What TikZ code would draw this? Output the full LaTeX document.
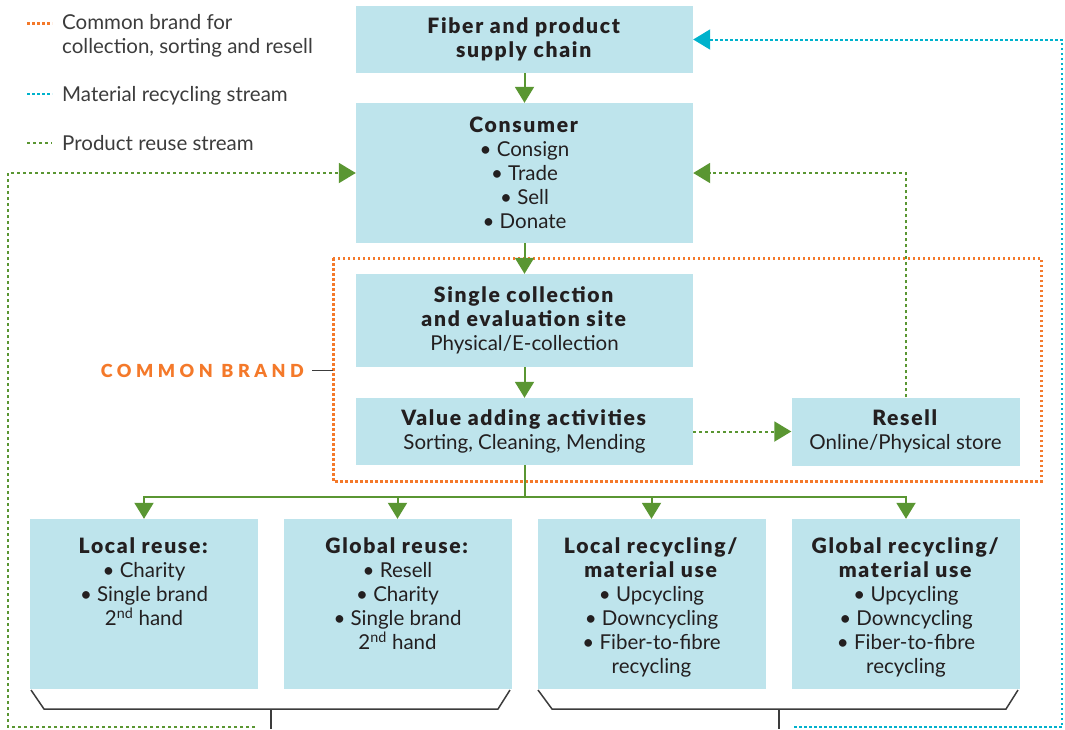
\documentclass[tikz,border=0pt]{standalone}
\usepackage{fontspec}
\setmainfont{Lato}[BoldFont={Lato Black}, BoldFeatures={Scale=1.03, LetterSpace=8}]
\newfontfamily\brandfont{Lato Black}[LetterSpace=25]
\usetikzlibrary{arrows.meta}
\definecolor{boxblue}{RGB}{190,228,236}
\definecolor{flowgreen}{RGB}{90,150,50}
\definecolor{brandorange}{RGB}{244,121,42}
\definecolor{recyccyan}{RGB}{0,178,204}
\definecolor{inkdark}{RGB}{35,31,32}
\definecolor{keygrey}{RGB}{60,60,60}
\newcommand{\toplines}[1]{\parbox[c][132pt][t]{220pt}{\centering #1}}

\begin{document}
\begin{tikzpicture}[x=1pt, y=-1pt,
  box/.style={fill=boxblue, inner sep=0pt, text=inkdark, align=center,
    font=\fontsize{20.5}{24}\selectfont},
  wide/.style={box, minimum width=337pt},
  botbox/.style={box, minimum width=228pt, minimum height=170pt},
  flow/.style={draw=flowgreen, line width=2pt, -{Triangle[width=19pt, length=16pt]}},
  branch/.style={draw=flowgreen, line width=2pt},
  reuse/.style={draw=flowgreen, line width=2pt, dash pattern=on 3pt off 3pt,
    -{Triangle[width=20pt, length=17pt]}},
  recyc/.style={draw=recyccyan, line width=2pt, dash pattern=on 2.5pt off 2.5pt,
    -{Triangle[width=20pt, length=17pt]}},
  brand/.style={draw=brandorange, line width=3pt, dash pattern=on 2.5pt off 2.5pt},
  keyline/.style={line width=2pt},
  keytext/.style={anchor=west, align=left, text=keygrey, inner sep=0pt,
    font=\fontsize{20.5}{24}\selectfont},
  bracket/.style={draw=keygrey, line width=1.5pt}]
  \useasboundingbox (0,0) rectangle (1065,729);

  \draw[brand, keyline, line width=3pt] (27,23) -- (52,23);
  \draw[recyc, keyline, -] (27,94) -- (52,94);
  \draw[reuse, keyline, -] (27,143) -- (52,143);
  \node (keybrand) at (62,35.5) [keytext] {Common brand for\\collection, sorting and resell};
  \node (keyrecyc) at (62,95.5) [keytext] {Material recycling stream};
  \node (keyreuse) at (62,143.5) [keytext] {Product reuse stream};

  \draw[brand] (333,258) rectangle (1041,481);
  \node (brandlabel) at (304,371) [anchor=east, inner sep=0pt, text=brandorange,
    font=\fontsize{18}{20}\brandfont] {COMMON BRAND};
  \draw[bracket, line width=1pt] (312,370) -- (333,370);

  \node (fiber) at (524.5,39.5) [wide, minimum height=67pt] {\textbf{Fiber and product}\\\textbf{supply chain}};
  \node (consumer) at (524.5,173) [wide, minimum height=140pt] {\textbf{Consumer}\\\textbullet{} Consign\\\textbullet{} Trade\\\textbullet{} Sell\\\textbullet{} Donate};
  \node (collect) at (524.5,320.5) [wide, minimum height=93pt] {\textbf{Single collection}\\\textbf{and evaluation site}\\Physical/E-collection};
  \node (value) at (524.5,431.5) [wide, minimum height=67pt] {\textbf{Value adding activities}\\Sorting, Cleaning, Mending};
  \node (resell) at (905.5,431.5) [box, minimum width=228pt, minimum height=68pt] {\textbf{Resell}\\Online/Physical store};

  \node (lreuse) at (144,604) [botbox] {\toplines{\textbf{Local reuse:}\\\textbullet{} Charity\\\textbullet{} Single brand\\2\textsuperscript{nd} hand}};
  \node (greuse) at (397.5,604) [botbox] {\toplines{\textbf{Global reuse:}\\\textbullet{} Resell\\\textbullet{} Charity\\\textbullet{} Single brand\\2\textsuperscript{nd} hand}};
  \node (lrecyc) at (651.5,604) [botbox] {\toplines{\textbf{Local recycling/}\\\textbf{material use}\\\textbullet{} Upcycling\\\textbullet{} Downcycling\\\textbullet{} Fiber-to-fibre\\recycling}};
  \node (grecyc) at (906,604) [botbox] {\toplines{\textbf{Global recycling/}\\\textbf{material use}\\\textbullet{} Upcycling\\\textbullet{} Downcycling\\\textbullet{} Fiber-to-fibre\\recycling}};

  \coordinate (fork) at (524.5,497);
  \coordinate (reuseend) at (255,727);
  \coordinate (recycend) at (794,727);

  \draw[flow] (fiber) -- (consumer);
  \draw[flow] (consumer) -- (collect);
  \draw[flow] (collect) -- (value);
  \draw[branch] (value) -- (fork);
  \draw[flow] (fork) -| (lreuse);
  \draw[flow] (fork) -| (greuse);
  \draw[flow] (fork) -| (lrecyc);
  \draw[flow] (fork) -| (grecyc);
  \draw[reuse] (value) -- (resell);
  \draw[reuse] (resell) |- (consumer);
  \draw[reuse] (reuseend) -- ++(-247,0) |- (consumer);
  \draw[recyc] (recycend) -- ++(268,0) |- (fiber);

  \draw[bracket] (31,690) -- (44,709) -- (498,709) -- (510,690);
  \draw[bracket] (271,709) -- (271,729);
  \draw[bracket] (538,690) -- (552,709) -- (1006,709) -- (1018,690);
  \draw[bracket] (779,709) -- (779,729);
\end{tikzpicture}
\end{document}
